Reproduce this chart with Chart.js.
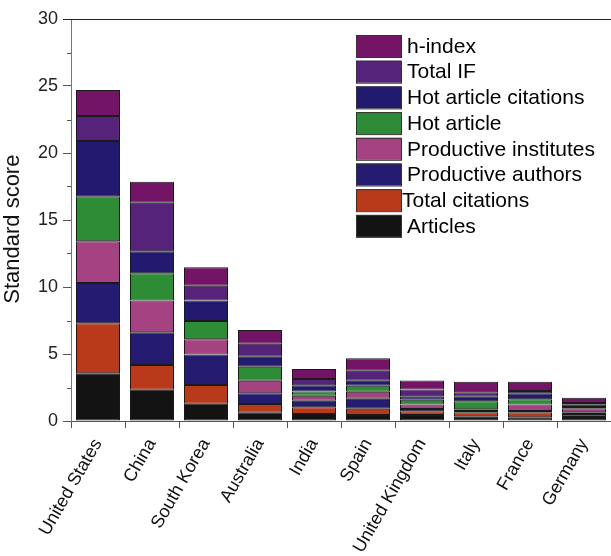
<!DOCTYPE html>
<html>
<head>
<meta charset="utf-8">
<script src="https://cdn.jsdelivr.net/npm/chart.js@4"></script>
<style>
html,body{margin:0;padding:0;background:#fff;}
#wrap{width:611px;height:556px;position:relative;}
</style>
</head>
<body>
<div id="wrap"><canvas id="c" width="611" height="556"></canvas></div>
<script>
const countries = ["United States","China","South Korea","Australia","India","Spain","United Kingdom","Italy","France","Germany"];
const articles = [3.56, 2.34, 1.29, 0.62, 0.52, 0.45, 0.45, 0.35, 0.28, 0.30];
const totalCitations = [3.73, 1.84, 1.40, 0.65, 0.50, 0.47, 0.27, 0.30, 0.37, 0.22];
const productiveAuthors = [3.01, 2.44, 2.28, 0.80, 0.50, 0.74, 0.18, 0.10, 0.10, 0.13];
const productiveInstitutes = [3.11, 2.38, 1.13, 0.94, 0.37, 0.53, 0.34, 0.12, 0.49, 0.30];
const hotArticle = [3.36, 2.02, 1.36, 1.04, 0.32, 0.44, 0.35, 0.60, 0.38, 0.09];
const hotArticleCitations = [4.13, 1.64, 1.54, 0.75, 0.45, 0.38, 0.25, 0.34, 0.45, 0.18];
const totalIF = [1.86, 3.63, 1.10, 0.97, 0.47, 0.74, 0.52, 0.33, 0.17, 0.12];
const hIndex = [1.94, 1.57, 1.37, 1.02, 0.75, 0.93, 0.67, 0.79, 0.69, 0.40];
const yTicks = [0, 5, 10, 15, 20, 25, 30];

const seriesNames = ["Articles","Total citations","Productive authors","Productive institutes","Hot article","Hot article citations","Total IF","h-index"];
const seriesValues = [articles,totalCitations,productiveAuthors,productiveInstitutes,hotArticle,hotArticleCitations,totalIF,hIndex];
const seriesColors = ["#131313","#b83a1b","#251b70","#a44282","#2e8b36","#221a6e","#55247a","#731466"];

const FONT = "'Liberation Sans', Arial, sans-serif";

const extras = {
  id: 'extras',
  afterDraw(chart) {
    const ctx = chart.ctx;
    const ca = chart.chartArea;
    const ys = chart.scales.y;
    ctx.save();
    // top frame line
    ctx.strokeStyle = '#222';
    ctx.lineWidth = 1.2;
    ctx.beginPath();
    ctx.moveTo(63, ca.top + 0.5);
    ctx.lineTo(chart.width, ca.top + 0.5);
    ctx.stroke();
    // minor ticks
    ctx.strokeStyle = '#555';
    ctx.lineWidth = 1;
    for (let v = 2.5; v < 30; v += 5) {
      const py = Math.round(ys.getPixelForValue(v)) + 0.5;
      ctx.beginPath();
      ctx.moveTo(ys.right - 4, py);
      ctx.lineTo(ys.right, py);
      ctx.stroke();
    }
    // legend (reverse order)
    const bx = 356, bw = 45, bh = 22, y0 = 35, pitch = 25.7;
    ctx.font = "21px " + FONT;
    ctx.textBaseline = 'middle';
    ctx.textAlign = 'left';
    const ds = chart.data.datasets;
    for (let i = 0; i < ds.length; i++) {
      const d = ds[ds.length - 1 - i];
      const y = y0 + i * pitch;
      ctx.fillStyle = d.backgroundColor;
      ctx.fillRect(bx, y, bw, bh);
      ctx.strokeStyle = '#333';
      ctx.lineWidth = 1;
      ctx.strokeRect(bx + 0.5, y + 0.5, bw, bh);
      ctx.fillStyle = '#000';
      const tx = d.label === 'Total citations' ? 402 : 407;
      ctx.fillText(d.label, tx, y + bh / 2 + 1);
    }
    ctx.restore();
  }
};

new Chart(document.getElementById('c'), {
  type: 'bar',
  data: {
    labels: countries,
    datasets: seriesNames.map((n, i) => ({
      label: n,
      data: seriesValues[i],
      backgroundColor: seriesColors[i],
      borderColor: '#1a1a1a',
      borderWidth: 1,
      borderSkipped: false,
      categoryPercentage: 1,
      barPercentage: 0.815
    }))
  },
  options: {
    responsive: false,
    animation: false,
    devicePixelRatio: 1,
    layout: { padding: { top: 19, right: 0, left: 0, bottom: 0 } },
    plugins: { legend: { display: false }, tooltip: { enabled: false } },
    scales: {
      x: {
        stacked: true,
        grid: { drawOnChartArea: false, tickLength: 7, color: '#555' },
        border: { display: true, color: '#555', width: 1 },
        ticks: { maxRotation: 60, minRotation: 60, autoSkip: false, color: '#111', font: { size: 18, family: FONT }, padding: 7 },
        afterFit(s) { s.height = 135; }
      },
      y: {
        stacked: true,
        min: 0, max: 30,
        afterBuildTicks(s) { s.ticks = yTicks.map(v => ({ value: v })); },
        grid: { drawOnChartArea: false, tickLength: 8, color: '#555' },
        border: { display: true, color: '#777', width: 1 },
        ticks: { color: '#222', font: { size: 18, family: FONT }, padding: 5 },
        title: { display: true, text: 'Standard score\u00A0\u00A0\u00A0', color: '#111', font: { size: 22, family: FONT }, padding: 0 },
        afterFit(s) { s.width = 71; }
      }
    }
  },
  plugins: [extras]
});
</script>
</body>
</html>
